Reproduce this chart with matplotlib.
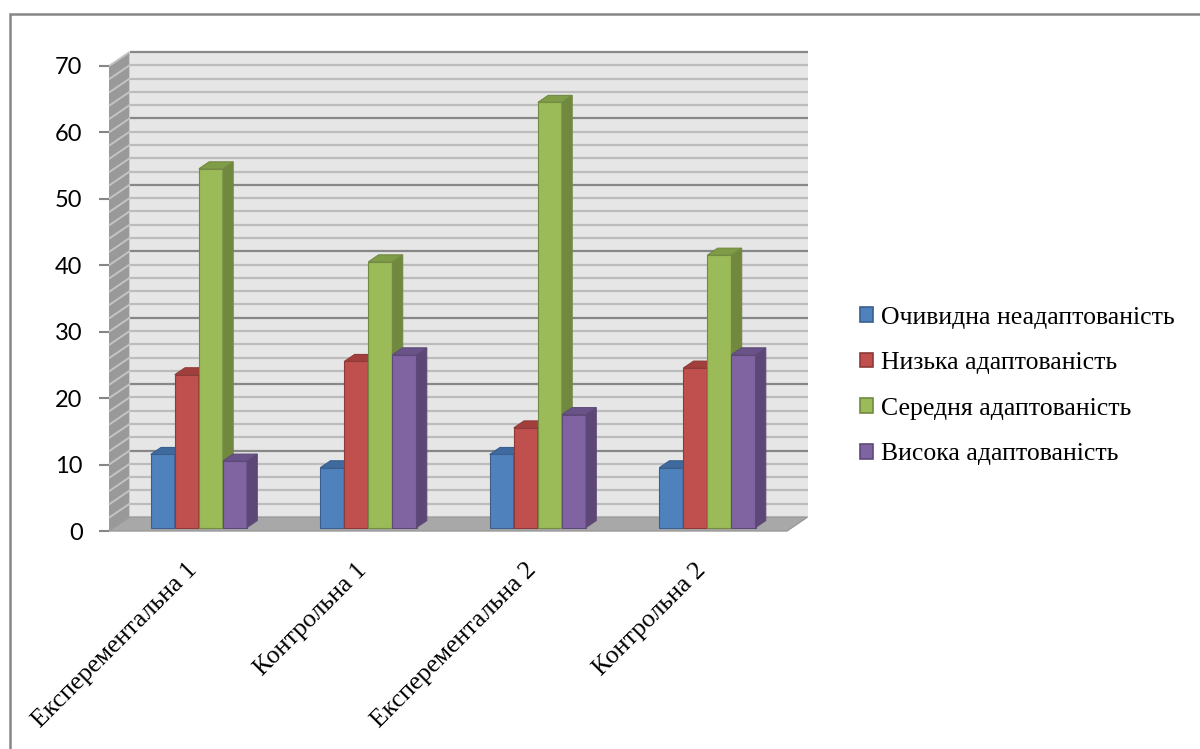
import matplotlib
matplotlib.use("Agg")
import matplotlib.pyplot as plt
from matplotlib.patches import Polygon, Rectangle, Patch

# groups and adaptation levels
groups = ["Експерементальна 1", "Контрольна 1", "Експерементальна 2", "Контрольна 2"]
levels = ["Очивидна неадаптованість", "Низька адаптованість",
          "Середня адаптованість", "Висока адаптованість"]

# percent per level, one list per level (same order as groups)
obvious = [11, 9, 11, 9]
low = [23, 25, 15, 24]
middle = [54, 40, 64, 41]
high = [10, 26, 17, 26]
series = [obvious, low, middle, high]

front_colors = ["#4f81bd", "#c0504d", "#9bbb59", "#8064a2"]
side_colors = ["#385d8a", "#8c3836", "#71893f", "#5c4776"]
top_colors = ["#3f6a9e", "#a23f3c", "#7f9c47", "#6a5389"]
edge_colors = ["#3a5f8f", "#8e3a38", "#728a42", "#5e4a78"]

y_max = 70
# depth of the floor in data units (oblique projection, right and up)
depth_x = 0.121
depth_y = 2.1
bar_w = 0.142

fig = plt.figure(figsize=(12, 7.49), dpi=100)
ax = fig.add_axes([109 / 1200, (749 - 531) / 749, 678 / 1200, (531 - 66) / 749])
ax.set_xlim(0, len(groups))
ax.set_ylim(0, y_max)

wall_kw = dict(clip_on=False)
# back wall
ax.add_patch(Polygon([(depth_x, depth_y), (len(groups) + depth_x, depth_y),
                      (len(groups) + depth_x, y_max + depth_y), (depth_x, y_max + depth_y)],
                     closed=True, facecolor="#e6e6e6", edgecolor="none", zorder=1, **wall_kw))
# left side wall
ax.add_patch(Polygon([(0, 0), (depth_x, depth_y), (depth_x, y_max + depth_y), (0, y_max)],
                     closed=True, facecolor="#999999", edgecolor="none", zorder=1, **wall_kw))
# floor
ax.add_patch(Polygon([(0, 0), (len(groups), 0), (len(groups) + depth_x, depth_y), (depth_x, depth_y)],
                     closed=True, facecolor="#a8a8a8", edgecolor="#9a9a9a", lw=1, zorder=2, **wall_kw))

# gridlines on back wall and side wall, minor every 2, major every 10
for v in range(0, y_max + 1, 2):
    major = v % 10 == 0
    col = "#878787" if major else "#bcbcbc"
    if v > 0:
        ax.plot([depth_x, len(groups) + depth_x], [v + depth_y, v + depth_y],
                color=col, lw=1.6, zorder=1.5, clip_on=False, solid_capstyle="butt")
        ax.plot([0, depth_x], [v, v + depth_y], color="#c4c4c4", lw=1.4,
                zorder=1.5, clip_on=False, solid_capstyle="butt")

# bars: front face sits at a quarter of the floor depth, back at three quarters
d0x, d0y = 0.25 * depth_x, 0.25 * depth_y
hx, hy = 0.5 * depth_x, 0.5 * depth_y
n = len(series)
for gi in range(len(groups)):
    start = gi + 0.5 - n * bar_w / 2
    for si in range(n):
        v = series[si][gi]
        x0 = start + si * bar_w + d0x
        x1 = x0 + bar_w
        b = d0y
        t = v + d0y
        z = 3 + gi * 0.1 + si * 0.01
        ax.add_patch(Polygon([(x0, b), (x1, b), (x1, t), (x0, t)], closed=True,
                             facecolor=front_colors[si], edgecolor=edge_colors[si],
                             lw=0.8, zorder=z, clip_on=False))
        ax.add_patch(Polygon([(x1, b), (x1 + hx, b + hy), (x1 + hx, t + hy), (x1, t)], closed=True,
                             facecolor=side_colors[si], edgecolor=edge_colors[si],
                             lw=0.8, zorder=z, clip_on=False))
        ax.add_patch(Polygon([(x0, t), (x1, t), (x1 + hx, t + hy), (x0 + hx, t + hy)], closed=True,
                             facecolor=top_colors[si], edgecolor=edge_colors[si],
                             lw=0.8, zorder=z, clip_on=False))

for s in ax.spines.values():
    s.set_visible(False)

ax.set_yticks(range(0, y_max + 1, 10))
ax.set_yticklabels([str(v) for v in range(0, y_max + 1, 10)], fontfamily="Lato", fontsize=17)
ax.tick_params(axis="y", length=7, width=1.5, color="#868686", pad=12)

ax.set_xticks([i + 0.5 for i in range(len(groups))])
ax.set_xticklabels(groups, rotation=45, ha="right", va="center", rotation_mode="anchor",
                   fontfamily="Liberation Serif", fontsize=18.5)
ax.tick_params(axis="x", length=0, pad=26)

handles = [Patch(facecolor=front_colors[i], edgecolor=edge_colors[i], lw=1.2) for i in range(n)]
fig.legend(handles, levels, loc="center left", bbox_to_anchor=(837 / 1200, 1 - 386 / 749),
           frameon=False, prop={"family": "Liberation Serif", "size": 18.5},
           handlelength=0.5, handleheight=0.5, handletextpad=0.3, labelspacing=0.92)

# outer frame of the chart area
fig.patches.append(Rectangle((10 / 1200, -0.05), 1.1, 1 - 14 / 749 + 0.05,
                             transform=fig.transFigure, fill=False,
                             edgecolor="#868686", lw=1.8))

fig.savefig("out.png", dpi=100)
